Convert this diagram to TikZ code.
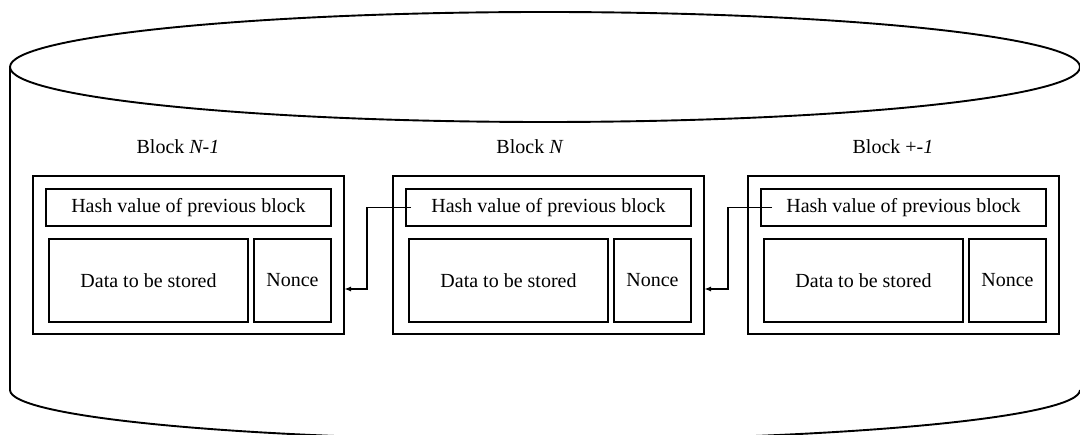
\documentclass[tikz,border=0pt]{standalone}
\usepackage{fontspec}
\setmainfont{Liberation Serif}
\usetikzlibrary{arrows.meta}
\begin{document}
\begin{tikzpicture}[x=1pt,y=-1pt,
  font=\fontsize{20}{24}\selectfont,
  bx/.style={draw, line width=1.4pt, inner sep=0pt, outer sep=0pt, align=center},
  outerbox/.style={bx, minimum width=311pt, minimum height=158pt},
  hashbox/.style={bx, minimum width=285pt, minimum height=37pt},
  databox/.style={bx, minimum width=199pt, minimum height=83pt},
  noncebox/.style={bx, minimum width=77pt, minimum height=83pt},
  cyl/.style={line width=1.9pt},
  conn/.style={line width=1.4pt, -{Latex[length=7pt,width=5pt]}},
  lbl/.style={inner sep=0pt}]
\useasboundingbox (0,0) rectangle (1080,435);
% cylinder
\draw[cyl] (545,67) ellipse [x radius=535pt, y radius=55pt];
\draw[cyl, line width=1.5pt] (10,67) -- (10,390);
\draw[cyl] (10,390) arc[start angle=180, end angle=360, x radius=535pt, y radius=50pt];
% blocks
\foreach \i/\L in {1/33, 2/393, 3/748}{
  \node[outerbox] (o\i) at (\L+155.5,255) {};
  \node[hashbox] (h\i) at (\L+155.5,207.5) {Hash value of previous block};
  \node[databox] (d\i) at (\L+115.5,280.5) {Data to be stored};
  \node[noncebox] (n\i) at (\L+259.5,280.5) {Nonce};
}
% labels
\node[lbl] (l1) at (178,147) {Block \textit{N-1}};
\node[lbl] (l2) at (530,147) {Block \textit{N}};
\node[lbl] (l3) at (893,147) {Block +\textit{-1}};
% connectors
\draw[conn] ([xshift=5pt]h2.west) -- ++(-44pt,0) |- ([yshift=-34pt]o1.east);
\draw[conn] ([xshift=11pt]h3.west) -- ++(-44pt,0) |- ([yshift=-34pt]o2.east);
\end{tikzpicture}
\end{document}
